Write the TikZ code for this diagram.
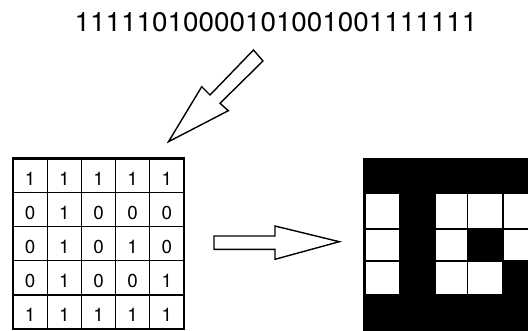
\documentclass[tikz,border=0pt]{standalone}
\usepackage{fontspec}
\setmainfont{TeX Gyre Heros}
\begin{document}
\begin{tikzpicture}[x=1pt,y=-1pt,
  bigarrow/.style={draw=black,fill=white,line width=1.4pt,line join=miter},
  digit/.style={anchor=base,inner sep=0pt,font=\fontsize{18.8}{20}\selectfont},
  outer/.style={line width=2.8pt},
  inner/.style={line width=1.3pt}]
\useasboundingbox (0,0) rectangle (528,330);
\fill[white] (0,0) rectangle (528,330);
% top code string
\node[anchor=base,inner sep=0pt,font=\fontsize{26.8}{30}\selectfont] (code) at (276,31.7) {\scalebox{1.04}[1]{11111010000101001001111111}};
% diagonal arrow
\draw[bigarrow] (253.5,50) -- (263,61) -- (220,103.3) -- (228.3,110.7) -- (168.5,141.7) -- (201.7,86.7) -- (210,95) -- cycle;
% horizontal arrow
\draw[bigarrow] (214,236) -- (275,236) -- (275,226) -- (339.3,241.7) -- (275,259.3) -- (275,249.3) -- (214,249.3) -- cycle;
% grid
\foreach \i in {1,...,4}{
  \draw[inner] ({13+34.2*\i},158.5) -- ({13+34.2*\i},329);
  \draw[inner] (13,{158.5+34.1*\i}) -- (184,{158.5+34.1*\i});
}
\draw[outer] (13,158.5) rectangle (184,329);
\foreach \row [count=\r from 0] in {{1,1,1,1,1},{0,1,0,0,0},{0,1,0,1,0},{0,1,0,0,1},{1,1,1,1,1}}{
  \foreach \v [count=\c from 0] in \row {
    \node[digit] (d\r\c) at ({13+34.2*(\c+0.5)},{158.5+34.1*\r+26.5}) {\v};
  }
}
% image
\begin{scope}
\clip (0,0) rectangle (528,330);
\fill[black] (363,157.5) rectangle (540,332);
\foreach \x/\w in {366/33.3,436/30.5,467.8/34,503.5/40}{
  \foreach \y/\h in {194/34.3,230/30.3,261.8/32.3}{
    \fill[white] (\x,\y) rectangle ++(\w,\h);
  }
}
\fill[black] (466.5,229) rectangle (502.5,261);
\fill[black] (502.2,261) rectangle (540,295);
\end{scope}
\end{tikzpicture}
\end{document}
